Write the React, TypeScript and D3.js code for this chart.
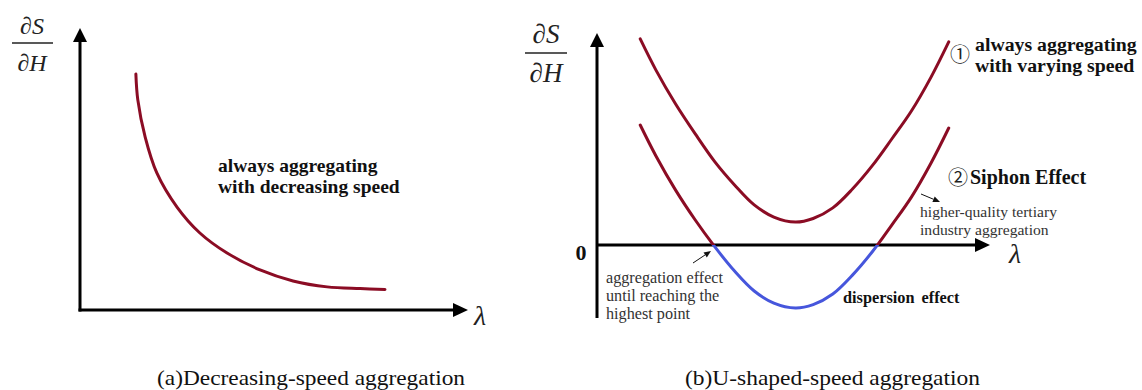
import React from "react";
import * as d3 from "d3";

// ---- Panel (a): decreasing-speed aggregation (λ vs ∂S/∂H, arbitrary units 0–10)
const lambdaA = [1.44, 1.49, 1.68, 1.98, 2.5, 3.09, 3.79, 4.64, 5.49, 6.37, 7.22, 7.86];
const speedA = [8.37, 7.45, 6.13, 4.86, 3.65, 2.73, 2.02, 1.42, 1.03, 0.82, 0.76, 0.73];

// ---- Panel (b): U-shaped-speed aggregation
const lambdaB = [1.1, 1.5, 2.0, 2.5, 3.0, 3.5, 4.0, 4.5, 5.05, 5.5, 6.0, 6.5, 7.0, 7.5, 8.0, 8.5, 8.95];
const curve1B = [9.72, 8.25, 6.65, 5.24, 3.92, 2.83, 1.89, 1.32, 1.08, 1.25, 1.75, 2.64, 3.73, 5.0, 6.32, 7.92, 9.58];
const curve2B = [5.66, 4.2, 2.59, 1.18, -0.09, -1.23, -2.17, -2.74, -2.97, -2.81, -2.31, -1.42, -0.33, 0.94, 2.26, 3.87, 5.52];

const captions = ["(a)Decreasing-speed aggregation", "(b)U-shaped-speed aggregation"];
const labelA = ["always aggregating", "with decreasing speed"];
const label1B = ["always aggregating", "with varying speed"];
const label2B = "Siphon Effect";
const noteHigher = ["higher-quality tertiary", "industry aggregation"];
const noteAgg = ["aggregation effect", "until reaching the", "highest point"];
const noteDisp = "dispersion effect";

const RED = "#8b0c24";
const BLUE = "#4656dc";
const SERIF = "'Liberation Serif', 'Times New Roman', serif";
const CIRC = "'Noto Sans CJK SC', 'DejaVu Sans', sans-serif";

export default function App() {
  const W = 1142, H = 390;
  const xA = d3.scaleLinear().domain([0, 10]).range([80, 468]);
  const yA = d3.scaleLinear().domain([0, 10]).range([310, 28]);
  const xB = d3.scaleLinear().domain([0, 10]).range([597, 990]);
  const yB = d3.scaleLinear().domain([0, 10]).range([245, 33]);

  const lineA = d3
    .line<number>()
    .x((_, i) => xA(lambdaA[i]))
    .y((d) => yA(d))
    .curve(d3.curveCatmullRom.alpha(0.5));
  const lineB = d3
    .line<number>()
    .x((_, i) => xB(lambdaB[i]))
    .y((d) => yB(d))
    .curve(d3.curveCatmullRom.alpha(0.5));

  const zeroY = yB(0);
  const axA = { x0: xA(0), y0: yA(0), yTop: yA(10), xEnd: xA(10) };
  const axB = { x0: xB(0), y0: zeroY, yTop: yB(10), xEnd: xB(10), yBottom: yB(-3.44) };

  const upHead = (x: number, tip: number, w = 14, h = 14) =>
    `${x},${tip} ${x - w / 2},${tip + h} ${x + w / 2},${tip + h}`;
  const rightHead = (tip: number, y: number, w = 14, h = 15) =>
    `${tip},${y} ${tip - h},${y - w / 2} ${tip - h},${y + w / 2}`;

  const smallArrow = (x1: number, y1: number, x2: number, y2: number) => {
    const ang = Math.atan2(y2 - y1, x2 - x1);
    const L = 7, Wd = 3;
    const bx = x2 - L * Math.cos(ang), by = y2 - L * Math.sin(ang);
    const px = -Math.sin(ang) * Wd, py = Math.cos(ang) * Wd;
    return (
      <g>
        <line x1={x1} y1={y1} x2={bx} y2={by} stroke="#111" strokeWidth={1} />
        <polygon points={`${x2},${y2} ${bx + px},${by + py} ${bx - px},${by - py}`} fill="#111" />
      </g>
    );
  };

  return (
    <svg width={W} height={H} style={{ position: "absolute", left: 0, top: 0, background: "#fff" }}
      fontFamily={SERIF}>
      <defs>
        <clipPath id="aboveZero">
          <rect x={0} y={0} width={W} height={zeroY} />
        </clipPath>
        <clipPath id="belowZero">
          <rect x={0} y={zeroY} width={W} height={H - zeroY} />
        </clipPath>
      </defs>
      <rect x={0} y={0} width={W} height={H} fill="#fff" />

      {/* ---------- Panel (a) ---------- */}
      <g>
        <text x={32} y={34} fontSize={24} fontStyle="italic" textAnchor="middle" fill="#222">∂S</text>
        <line x1={12} x2={53} y1={43} y2={43} stroke="#222" strokeWidth={1.6} />
        <text x={32} y={71} fontSize={24} fontStyle="italic" textAnchor="middle" fill="#222">∂H</text>

        <line x1={axA.x0} y1={axA.y0 + 1.5} x2={axA.x0} y2={axA.yTop + 12} stroke="#000" strokeWidth={3} />
        <polygon points={upHead(axA.x0, axA.yTop)} fill="#000" />
        <line x1={axA.x0 - 1.5} y1={axA.y0} x2={axA.xEnd - 12} y2={axA.y0} stroke="#000" strokeWidth={3} />
        <polygon points={rightHead(axA.xEnd, axA.y0)} fill="#000" />
        <text x={474} y={325} fontSize={28} fontStyle="italic" fill="#222">λ</text>

        <path d={lineA(speedA) || ""} fill="none" stroke={RED} strokeWidth={3} strokeLinecap="round" />
        <text x={218} y={172} fontSize={19.5} fontWeight="bold" fill="#111">{labelA[0]}</text>
        <text x={218} y={193} fontSize={19.5} fontWeight="bold" fill="#111">{labelA[1]}</text>
      </g>

      {/* ---------- Panel (b) ---------- */}
      <g>
        <text x={546} y={43} fontSize={27} fontStyle="italic" textAnchor="middle" fill="#222">∂S</text>
        <line x1={525} x2={567} y1={53} y2={53} stroke="#222" strokeWidth={1.6} />
        <text x={546} y={82} fontSize={27} fontStyle="italic" textAnchor="middle" fill="#222">∂H</text>

        <line x1={axB.x0} y1={axB.yBottom} x2={axB.x0} y2={axB.yTop + 12} stroke="#000" strokeWidth={3} />
        <polygon points={upHead(axB.x0, axB.yTop)} fill="#000" />
        <line x1={axB.x0} y1={axB.y0} x2={axB.xEnd - 12} y2={axB.y0} stroke="#000" strokeWidth={3} />
        <polygon points={rightHead(axB.xEnd, axB.y0)} fill="#000" />
        <text x={581} y={260} fontSize={22} fontWeight="bold" textAnchor="middle" fill="#111">0</text>
        <text x={1009} y={263} fontSize={28} fontStyle="italic" fill="#222">λ</text>

        <path d={lineB(curve1B) || ""} fill="none" stroke={RED} strokeWidth={3} strokeLinecap="round" />
        <path d={lineB(curve2B) || ""} fill="none" stroke={RED} strokeWidth={3} strokeLinecap="round"
          clipPath="url(#aboveZero)" />
        <path d={lineB(curve2B) || ""} fill="none" stroke={BLUE} strokeWidth={3} strokeLinecap="round"
          clipPath="url(#belowZero)" />

        <text x={960} y={62} fontSize={20} fontFamily={CIRC} textAnchor="middle" fill="#222">①</text>
        <text x={975} y={51} fontSize={19.8} fontWeight="bold" fill="#111">{label1B[0]}</text>
        <text x={975} y={72} fontSize={19.8} fontWeight="bold" fill="#111">{label1B[1]}</text>

        <text x={958} y={185} fontSize={20} fontFamily={CIRC} textAnchor="middle" fill="#222">②</text>
        <text x={970} y={184} fontSize={20} fontWeight="bold" fill="#111">{label2B}</text>

        {smallArrow(921, 194, 940, 202)}
        <text x={920} y={217} fontSize={15.6} fill="#333">{noteHigher[0]}</text>
        <text x={920} y={235} fontSize={15.6} fill="#333">{noteHigher[1]}</text>

        {smallArrow(693, 263, 711, 251)}
        {noteAgg.map((t, i) => (
          <text key={t} x={606} y={283 + i * 18} fontSize={16.2} fill="#333">{t}</text>
        ))}

        <text x={843} y={303} fontSize={16.3} fontWeight="bold" fill="#111" wordSpacing={3}>{noteDisp}</text>
      </g>

      {/* ---------- Captions ---------- */}
      <text x={157} y={385} fontSize={21} textLength={308} lengthAdjust="spacingAndGlyphs" fill="#111">
        {captions[0]}
      </text>
      <text x={685} y={385} fontSize={21} textLength={295} lengthAdjust="spacingAndGlyphs" fill="#111">
        {captions[1]}
      </text>
    </svg>
  );
}
